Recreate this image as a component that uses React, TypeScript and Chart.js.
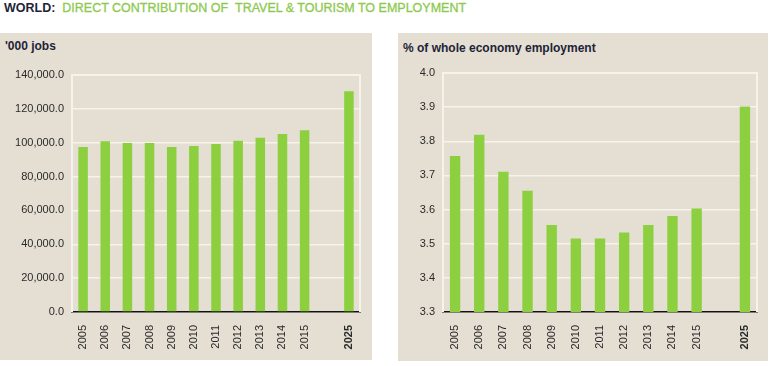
import React, { useEffect, useRef } from "react";
import { Chart, registerables } from "chart.js";

Chart.register(...registerables);

const categories = ["2005", "2006", "2007", "2008", "2009", "2010", "2011", "2012", "2013", "2014", "2015", "", "2025"];
const jobsValues = [97500, 100800, 99800, 99800, 97500, 98100, 99300, 101200, 103000, 105100, 107300, null, 130400];
const shareValues = [3.757, 3.819, 3.711, 3.655, 3.555, 3.515, 3.515, 3.533, 3.555, 3.581, 3.603, null, 3.902];
const jobsTicks = { min: 0, max: 140000, step: 20000 };
const shareTicks = { min: 3.3, max: 4.0, step: 0.1 };

const BG = "#e5dfd3";
const BAR = "#8ccf3f";
const GRID = "#f7f3ec";
const FONT = "'Liberation Sans', Arial, sans-serif";

const borderPlugin = {
  id: "plotBorder",
  beforeDatasetsDraw(chart: any) {
    const { ctx, chartArea } = chart;
    ctx.save();
    ctx.strokeStyle = GRID;
    ctx.lineWidth = 2;
    ctx.beginPath();
    ctx.moveTo(chartArea.left, chartArea.bottom);
    ctx.lineTo(chartArea.left, chartArea.top);
    ctx.lineTo(chartArea.right, chartArea.top);
    ctx.lineTo(chartArea.right, chartArea.bottom);
    ctx.stroke();
    ctx.restore();
  },
};

type Cfg = {
  values: (number | null)[];
  ticks: { min: number; max: number; step: number };
  fmt: (v: number) => string;
  yWidth: number;
  xHeight: number;
  padTop: number;
  padRight: number;
};

function BarChart({ width, height, cfg }: { width: number; height: number; cfg: Cfg }) {
  const ref = useRef<HTMLCanvasElement | null>(null);
  useEffect(() => {
    if (!ref.current) return;
    const chart = new Chart(ref.current, {
      type: "bar",
      data: {
        labels: categories,
        datasets: [
          {
            data: cfg.values as any,
            backgroundColor: BAR,
            borderWidth: 0,
            barPercentage: 0.43,
            categoryPercentage: 1,
          },
        ],
      },
      options: {
        animation: false,
        responsive: false,
        maintainAspectRatio: false,
        devicePixelRatio: 1,
        layout: { padding: { top: cfg.padTop, right: cfg.padRight, left: 0, bottom: 0 } },
        plugins: { legend: { display: false }, tooltip: { enabled: false }, title: { display: false } },
        scales: {
          x: {
            offset: true,
            grid: { display: false },
            border: { display: true, color: "#111", width: 1.5 },
            ticks: {
              maxRotation: 90,
              minRotation: 90,
              autoSkip: false,
              padding: 5,
              color: "#2a2a2a",
              font: (c: any) => ({
                family: FONT,
                size: 11,
                weight: c.tick && c.tick.label === "2025" ? "bold" : "normal",
              }),
            },
            afterFit: (s: any) => {
              s.height = cfg.xHeight;
            },
          },
          y: {
            min: cfg.ticks.min,
            max: cfg.ticks.max,
            grid: { color: GRID, lineWidth: 1.5, drawTicks: false },
            border: { display: false },
            ticks: {
              stepSize: cfg.ticks.step,
              padding: 8,
              color: "#2a2a2a",
              font: { family: FONT, size: 11 },
              callback: (v: any) => cfg.fmt(Number(v)),
            },
            afterFit: (s: any) => {
              s.width = cfg.yWidth;
            },
          },
        },
      },
      plugins: [borderPlugin],
    });
    return () => chart.destroy();
  }, []);
  return <canvas ref={ref} width={width} height={height} style={{ position: "absolute", left: 0, top: 0, width, height }} />;
}

function Panel({ left, top, width, height, title, titleTop, cfg }: any) {
  return (
    <div style={{ position: "absolute", left, top, width, height, background: BG }}>
      <div
        style={{
          position: "absolute",
          left: 5,
          top: titleTop,
          fontFamily: FONT,
          fontWeight: "bold",
          fontSize: 12,
          color: "#1e2438",
          whiteSpace: "nowrap",
        }}
      >
        {title}
      </div>
      <BarChart width={width} height={height} cfg={cfg} />
    </div>
  );
}

export default function App() {
  const jobsCfg: Cfg = {
    values: jobsValues,
    ticks: jobsTicks,
    fmt: (v) => v.toLocaleString("en-US", { minimumFractionDigits: 1, maximumFractionDigits: 1 }),
    yWidth: 72,
    xHeight: 48,
    padTop: 42,
    padRight: 12,
  };
  const shareCfg: Cfg = {
    values: shareValues,
    ticks: shareTicks,
    fmt: (v) => v.toFixed(1),
    yWidth: 45,
    xHeight: 49,
    padTop: 40,
    padRight: 11,
  };
  return (
    <div style={{ position: "absolute", left: 0, top: 0, width: 771, height: 366, background: "#ffffff", overflow: "hidden" }}>
      <div
        style={{
          position: "absolute",
          left: 4,
          top: 1,
          fontFamily: FONT,
          fontSize: 12.5,
          whiteSpace: "nowrap",
        }}
      >
        <span style={{ fontWeight: "bold", color: "#1e2438" }}>WORLD:</span>
        <span style={{ color: "#8dc94e", WebkitTextStroke: "0.3px #8dc94e" }}>{"\u00a0 DIRECT CONTRIBUTION OF \u00a0TRAVEL & TOURISM TO EMPLOYMENT"}</span>
      </div>
      <Panel left={0} top={33} width={372} height={327} title="'000 jobs" titleTop={6} cfg={jobsCfg} />
      <Panel left={398} top={33} width={370} height={328} title="% of whole economy employment" titleTop={8} cfg={shareCfg} />
    </div>
  );
}
